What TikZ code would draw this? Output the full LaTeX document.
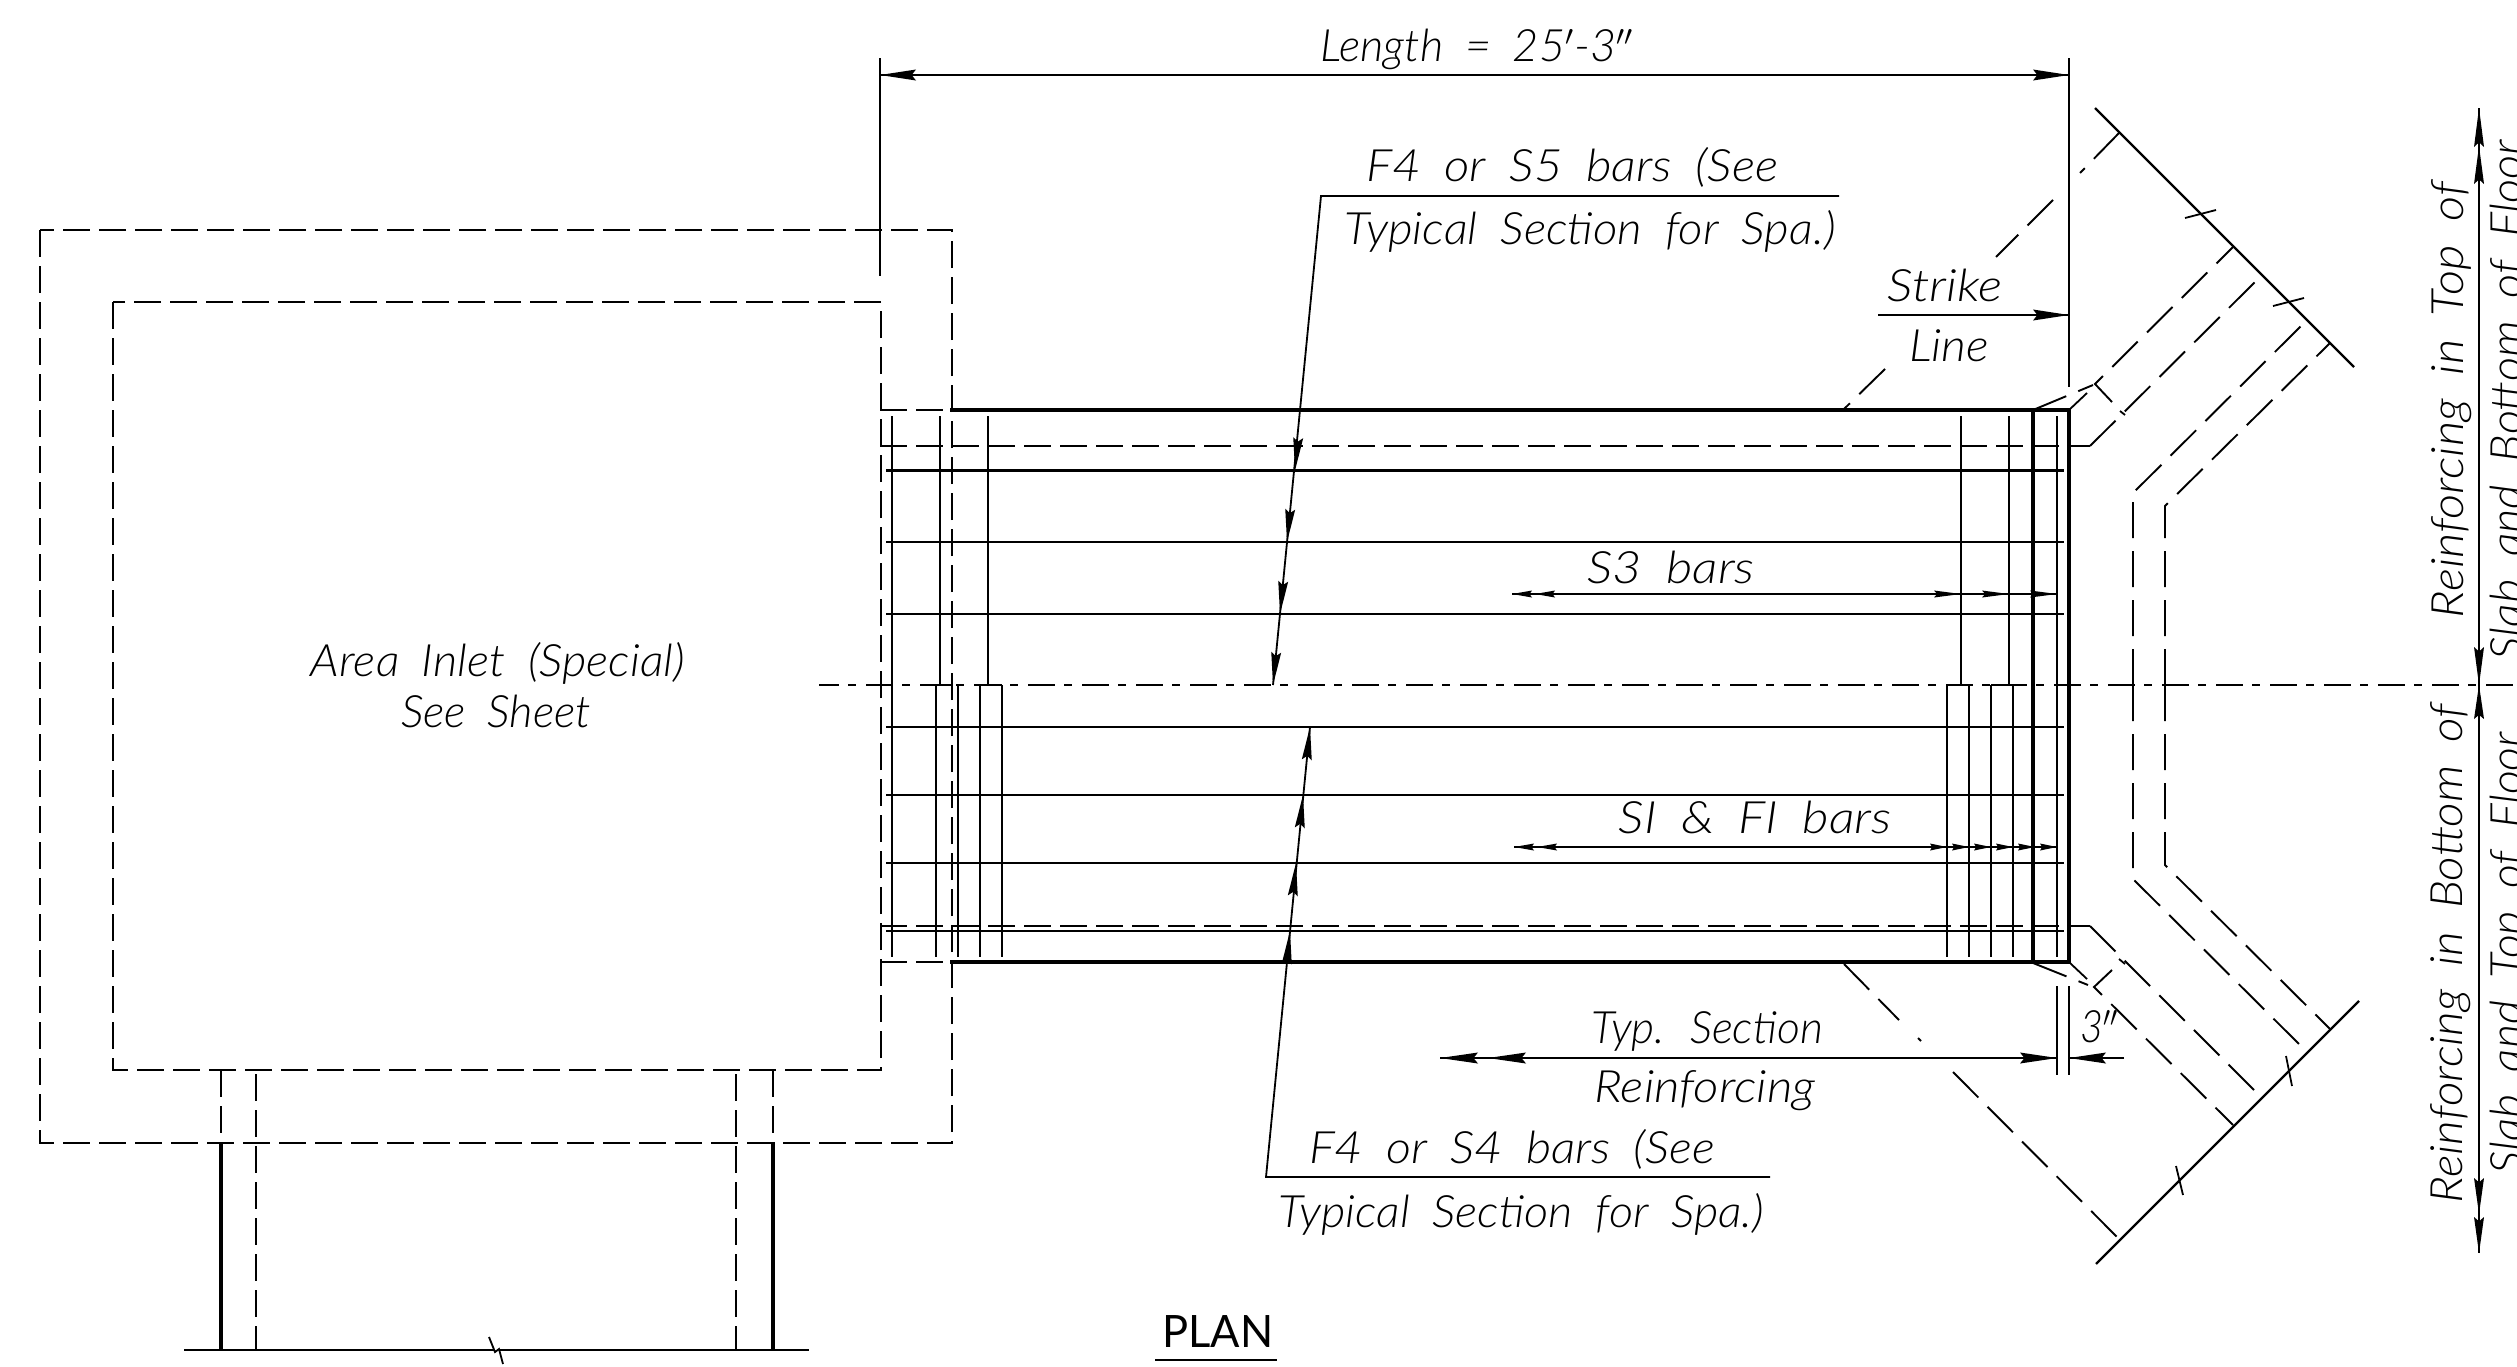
\documentclass[tikz,border=0pt]{standalone}
\usepackage{fontspec}
\usepackage{graphicx}
\setmainfont{Lato}[UprightFont=* Light,ItalicFont=* Light Italic,WordSpace=1.9]
\newfontfamily\planfont{Lato}
\newlength\pxu \setlength\pxu{0.5pt}
\newcommand\ah[5]{\fill[shift={(#1,#2)},rotate=#3] (0,0)--({-#4},{#5/2})--({-0.88*#4},0)--({-#4},{-#5/2})--cycle;}
\newcommand\fitw[2]{\resizebox{#1\pxu}{\height}{\itshape #2}}
\newcommand\fitu[2]{\resizebox{#1\pxu}{\height}{\planfont #2}}
\tikzset{
 dimline/.style={line width=0.9pt,black},
 barline/.style={line width=1.1pt,black},
 heavyline/.style={line width=2pt,black,line cap=rect},
 wallline/.style={line width=1.6pt,black},
 dashline/.style={line width=1.05pt,black,dash pattern=on 13.5pt off 4.5pt},
 diagdash/.style={line width=0.95pt,black,dash pattern=on 18pt off 6.5pt},
 axisline/.style={line width=1.05pt,black,dash pattern=on 13.5pt off 4.5pt on 3.75pt off 5.25pt,dash phase=3.5pt},
 lbl/.style={inner sep=0pt,outer sep=0pt,anchor=base,font=\fontsize{22.3pt}{26pt}\selectfont},
}
\begin{document}
\begin{tikzpicture}[x=0.5pt,y=-0.5pt]
\useasboundingbox (0,0) rectangle (2517,1366);
% inlet
\draw[dashline] (40,230) rectangle (952,1143);
\draw[dashline] (113,302) rectangle (881,1070);
\draw[dashline] (880,410) -- (952,410);
\draw[dashline] (880,962) -- (952,962);
% walls
\draw[dashline] (221,1070) -- (221,1142);
\draw[dashline] (773,1070) -- (773,1142);
\draw[wallline] (221,1142) -- (221,1350);
\draw[wallline] (773,1142) -- (773,1350);
\draw[dashline] (256,1074) -- (256,1350);
\draw[dashline] (736,1074) -- (736,1350);
\draw[barline] (184,1350) -- (495,1350) (499,1350) -- (809,1350);
\draw[dimline] (489,1337) -- (495,1352) -- (499,1349) -- (503,1364);
% centre line
\draw[axisline] (819,685) -- (2517,685);
\foreach \a/\b in {936/952,980/1002,1947/1969,1991/2013} \draw[barline] (\a,685) -- (\b,685);
% slab rebar
\foreach \y in {470.5,542,614,727,795,863,931} \draw[barline] (886,\y) -- (2064,\y);
\foreach \x in {892} \draw[barline] (\x,416) -- (\x,957);
\foreach \x in {940,988,1961,2009} \draw[barline] (\x,416) -- (\x,685);
\foreach \x in {936,958,980,1002,1947,1969,1991,2013} \draw[barline] (\x,685) -- (\x,957);
\draw[barline] (2057,416) -- (2057,957);
% slab outline
\draw[heavyline] (952,410) -- (2069,410) -- (2069,962) -- (952,962);
\draw[heavyline] (2033,410) -- (2033,962);
% wingwalls upper
\draw[dashline] (880,446) -- (2090,446);
\draw[diagdash] (2090,446) -- (2260,277);
\draw[diagdash] (2112,402) -- (2095,384) -- (2233,247);
\draw[diagdash] (2033,410) -- (2093,385);
\draw[dimline] (2069,410) -- (2087,393);
\draw[diagdash] (2133,685) -- (2133,493) -- (2303,324);
\draw[diagdash] (2165,685) -- (2165,506) -- (2330,343);
\draw[dimline] (2120,411) -- (2125,415);
% wingwalls lower
\draw[dashline] (880,926) -- (2090,926);
\draw[diagdash] (2090,926) -- (2260,1096);
\draw[diagdash] (2112,970) -- (2094,987) -- (2233,1125);
\draw[diagdash] (2033,963) -- (2088,985);
\draw[dimline] (2070,963) -- (2087,979);
\draw[diagdash] (2133,685) -- (2133,879) -- (2303,1048);
\draw[diagdash] (2165,685) -- (2165,865) -- (2330,1029);
\draw[dimline] (2119,959) -- (2125,964);
% strike lines
\draw[diagdash] (2119,133) -- (2080,173);
\draw[diagdash] (2053,200) -- (1996,257);
\draw[diagdash] (1885,369) -- (1844,409);
\draw[diagdash] (1844,964) -- (1899,1020);
\draw[diagdash] (1918,1038) -- (1921,1041);
\draw[diagdash] (1953,1072) -- (2119,1239);
% slanted dimension lines
\draw[barline] (2095,108) -- (2354,367);
\draw[dimline] (2185,218) -- (2216,210);
\draw[dimline] (2273,306) -- (2304,298);
\draw[barline] (2359,1001) -- (2096,1264);
\draw[dimline] (2286,1056) -- (2292,1086);
\draw[dimline] (2176,1166) -- (2183,1195);
% length dimension
\draw[dimline] (880,58) -- (880,276);
\draw[dimline] (2069,58) -- (2069,387);
\draw[dimline] (880,75) -- (2069,75);
\ah{880}{75}{180}{36}{11}
\ah{2069}{75}{0}{36}{11}
% strike arrow
\draw[dimline] (1878,315) -- (2069,315);
\ah{2069}{315}{0}{36}{11}
% upper leader
\draw[dimline] (1839,196) -- (1321,196) -- (1273,685);
\ah{1273}{685}{-95.6}{33}{10}
\ah{1280}{614}{-95.6}{33}{10}
\ah{1287}{542}{-95.6}{33}{10}
\ah{1295}{470.5}{-95.6}{33}{10}
% lower leader
\draw[dimline] (1770,1177) -- (1266,1177) -- (1310,727);
\ah{1310}{727}{84.4}{33}{10}
\ah{1303}{795}{84.4}{33}{10}
\ah{1296}{863}{84.4}{33}{10}
\ah{1290}{931}{84.4}{33}{10}
% S3 bars
\draw[dimline] (1512,594) -- (2057,594);
\ah{1512}{594}{180}{20}{7}
\ah{1535}{594}{180}{20}{7}
\foreach \x in {1961,2009,2057} {\ah{\x}{594}{0}{27}{7}}
% S1 bars
\draw[dimline] (1514,847) -- (2057,847);
\ah{1514}{847}{180}{20}{7}
\ah{1537}{847}{180}{20}{7}
\foreach \x in {1947,1969,1991,2013,2035,2057} {\ah{\x}{847}{0}{17}{7}}
% typ section
\draw[dimline] (1440,1058) -- (2057,1058);
\ah{1440}{1058}{180}{38}{11}
\ah{1488}{1058}{180}{38}{11}
\ah{2057}{1058}{0}{37}{11}
\draw[dimline] (2057,986) -- (2057,1075);
\draw[dimline] (2069,986) -- (2069,1075);
\draw[dimline] (2124,1058) -- (2069,1058);
\ah{2069}{1058}{180}{37}{11}
% right dimension
\draw[dimline] (2479,108) -- (2479,1253);
\ah{2479}{108}{90}{39}{10}
\ah{2479}{146}{90}{38}{10}
\ah{2479}{685}{-90}{38}{10}
\ah{2479}{685}{90}{34}{10}
\ah{2479}{1214}{-90}{36}{10}
\ah{2479}{1253}{-90}{36}{10}
% PLAN underline
\draw[line width=1.4pt] (1155,1360) -- (1277,1360);
% labels
\node[lbl] (len) at (1477,61) {\fitw{313}{Length = 25$'$-3$''$}};
\node[lbl] (fs5) at (1572,181) {\fitw{412}{F4 or S5 bars (See}};
\node[lbl] (ts1) at (1590,244) {\fitw{491}{Typical Section for Spa.)}};
\node[lbl] (str) at (1945,301) {\fitw{115}{Strike}};
\node[lbl] (lin) at (1949,361) {\fitw{80}{Line}};
\node[lbl] (s3b) at (1671,583) {\fitw{167}{S3 bars}};
\node[lbl] (s1b) at (1755,833) {\fitw{273}{SI \& FI bars}};
\node[lbl] (typ) at (1707,1043) {\fitw{232}{Typ. Section}};
\node[lbl] (rei) at (1705,1102) {\fitw{221}{Reinforcing}};
\node[lbl] (fs4) at (1512,1163) {\fitw{406}{F4 or S4 bars (See}};
\node[lbl] (ts2) at (1521,1227) {\fitw{486}{Typical Section for Spa.)}};
\node[lbl] (thr) at (2099,1042) {\fitw{38}{3$''$}};
\node[lbl] (pln) at (1218,1347) {\fitu{111}{PLAN}};
\node[lbl] (are) at (498,676) {\fitw{374}{Area Inlet (Special)}};
\node[lbl] (see) at (496,727) {\fitw{190}{See Sheet}};
\node[lbl,rotate=90] (v1) at (2463,400) {\fitw{436}{Reinforcing in Top of}};
\node[lbl,rotate=90] (v2) at (2522,400) {\fitw{520}{Slab and Bottom of Floor}};
\node[lbl,rotate=90] (v3) at (2462,953.5) {\fitw{499}{Reinforcing in Bottom of}};
\node[lbl,rotate=90] (v4) at (2522,953) {\fitw{442}{Slab and Top of Floor}};
\end{tikzpicture}
\end{document}
